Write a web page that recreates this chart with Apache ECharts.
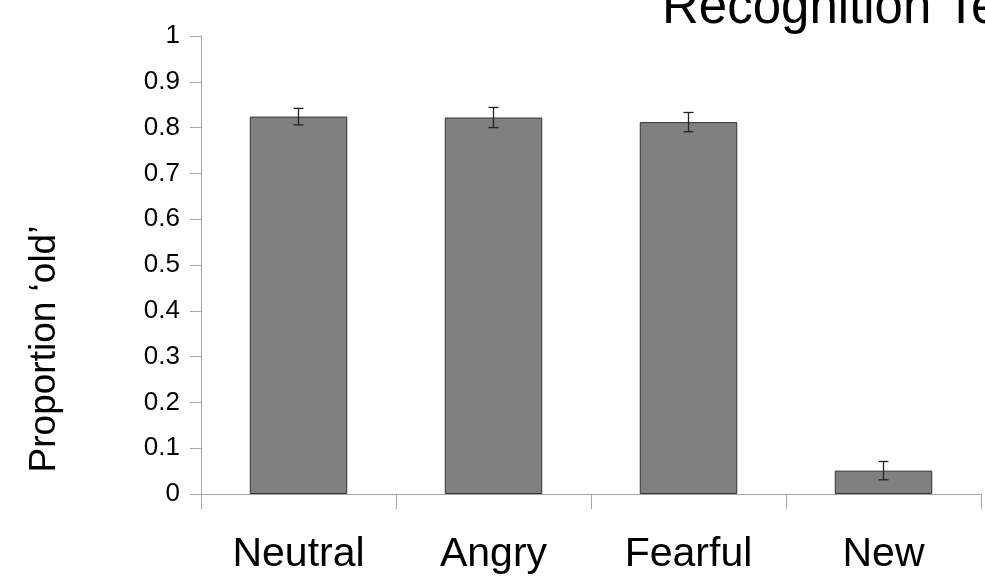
<!DOCTYPE html>
<html>
<head>
<meta charset="utf-8">
<script src="https://cdn.jsdelivr.net/npm/echarts@6/dist/echarts.min.js"></script>
<style>
  html, body { margin: 0; padding: 0; background: #fff; }
  #chart { width: 985px; height: 576px; }
</style>
</head>
<body>
<div id="chart"></div>
<script>
// Recognition test: proportion of items judged 'old' per face condition
const categories = ['Neutral', 'Angry', 'Fearful', 'New'];
const proportions = [0.824, 0.822, 0.812, 0.051];
const errors = [0.018, 0.022, 0.021, 0.020];
const yTicks = [0, 0.1, 0.2, 0.3, 0.4, 0.5, 0.6, 0.7, 0.8, 0.9, 1];

const FONT = '"Liberation Sans", Arial, sans-serif';
const chart = echarts.init(document.getElementById('chart'), null, { renderer: 'canvas' });

const errorData = categories.map((c, i) => [i, proportions[i], errors[i]]);

chart.setOption({
  animation: false,
  backgroundColor: '#ffffff',
  grid: { left: 201, right: 4, top: 36, bottom: 82, containLabel: false },
  graphic: [
    {
      type: 'text', left: 662, top: -17,
      style: { text: 'Recognition Test', font: '51px ' + FONT, fill: '#000' }
    },
    {
      type: 'text', x: 45, y: 349, rotation: Math.PI / 2,
      style: {
        text: 'Proportion \u2018old\u2019', font: '37px ' + FONT, fill: '#000',
        align: 'center', verticalAlign: 'middle'
      }
    }
  ],
  xAxis: {
    type: 'category',
    data: categories,
    boundaryGap: true,
    axisLine: { lineStyle: { color: '#a6a6a6', width: 1 } },
    axisTick: { show: true, length: 15, alignWithLabel: false, lineStyle: { color: '#a6a6a6' } },
    axisLabel: { color: '#000', fontFamily: FONT, fontSize: 41, margin: 40 },
    splitLine: { show: false }
  },
  yAxis: {
    type: 'value',
    min: yTicks[0],
    max: yTicks[yTicks.length - 1],
    interval: 0.1,
    axisLine: { show: true, lineStyle: { color: '#a6a6a6', width: 1 } },
    axisTick: { show: true, length: 11, lineStyle: { color: '#a6a6a6' } },
    axisLabel: {
      color: '#000', fontFamily: FONT, fontSize: 26, margin: 21,
      formatter: v => String(Math.round(v * 10) / 10)
    },
    splitLine: { show: false }
  },
  series: [
    {
      type: 'bar',
      data: proportions,
      barWidth: '50%',
      itemStyle: { color: '#808080', borderColor: '#333333', borderWidth: 1 }
    },
    {
      type: 'custom',
      data: errorData,
      z: 10,
      renderItem: function (params, api) {
        const x = api.value(0), y = api.value(1), e = api.value(2);
        const hi = api.coord([x, y + e]);
        const lo = api.coord([x, y - e]);
        const cap = 5;
        const style = { stroke: '#222', lineWidth: 1.3 };
        return {
          type: 'group',
          children: [
            { type: 'line', shape: { x1: hi[0], y1: hi[1], x2: lo[0], y2: lo[1] }, style },
            { type: 'line', shape: { x1: hi[0] - cap, y1: hi[1], x2: hi[0] + cap, y2: hi[1] }, style },
            { type: 'line', shape: { x1: lo[0] - cap, y1: lo[1], x2: lo[0] + cap, y2: lo[1] }, style }
          ]
        };
      }
    }
  ]
});
</script>
</body>
</html>
